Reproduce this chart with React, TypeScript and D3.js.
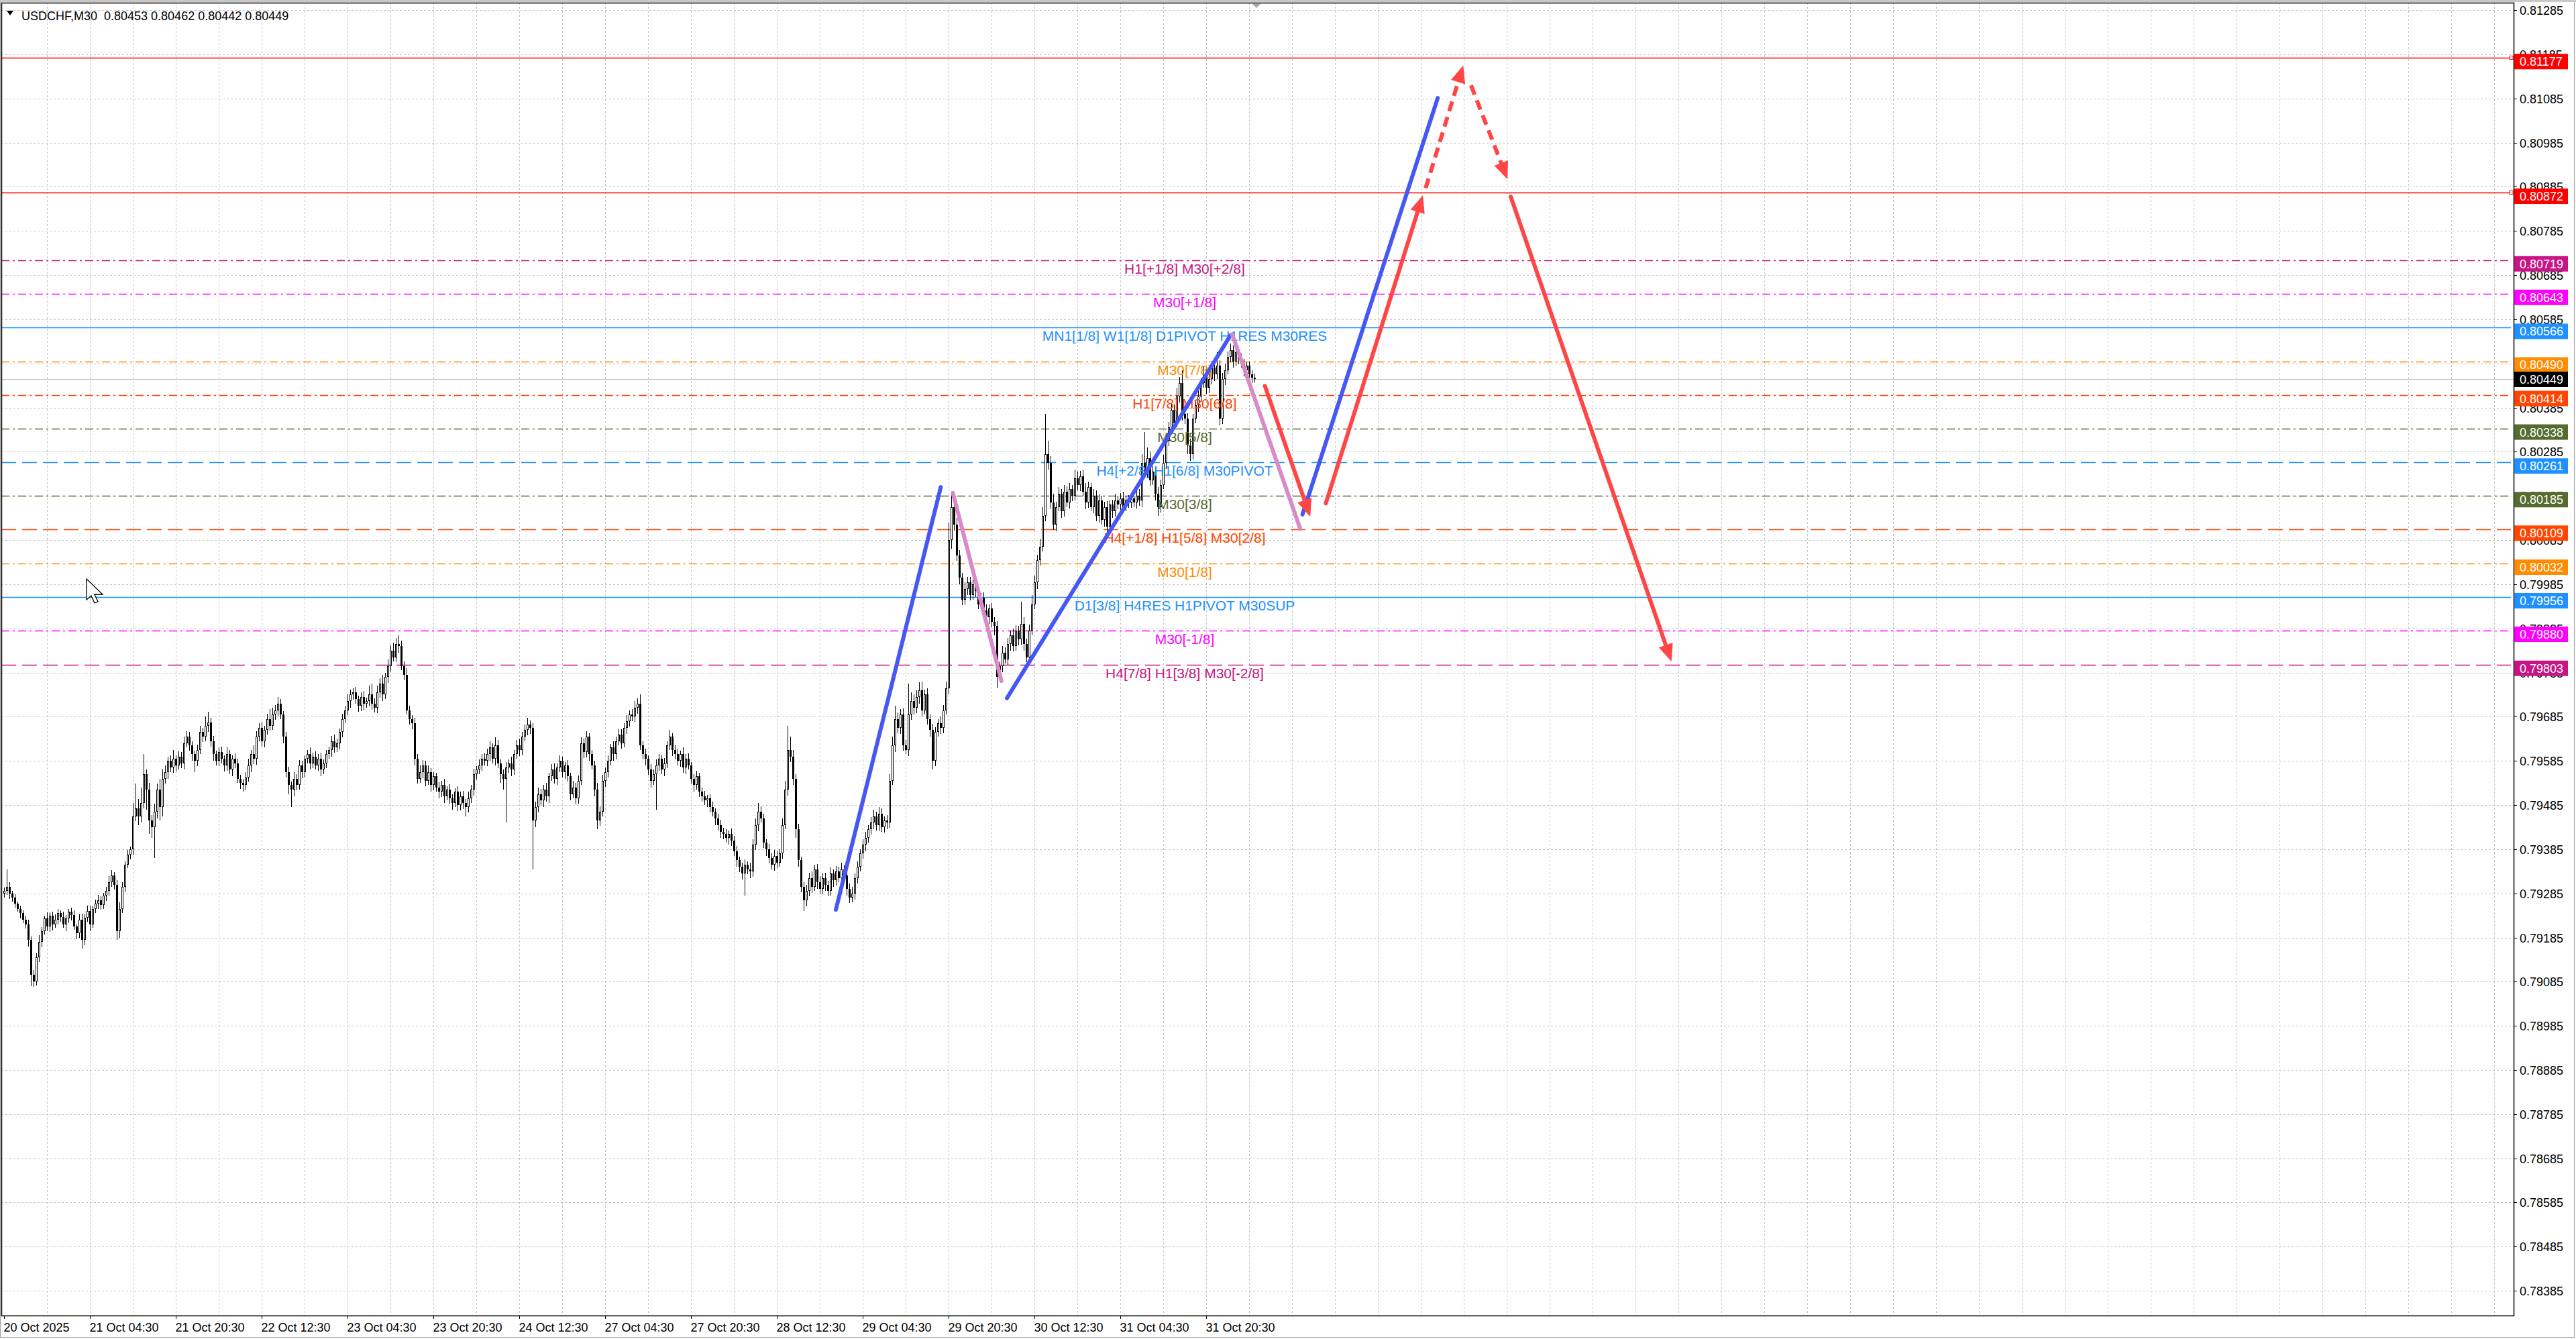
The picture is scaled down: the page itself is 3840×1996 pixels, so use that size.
import React, { useEffect, useRef } from "react";
import * as d3 from "d3";

const W = 3840;
const H = 1996;
const FONT = "'Liberation Sans', Arial, sans-serif";

// candle prices in points (0.00001) above 0.79000, open = previous close
const firstOpen = 285;
const closes = [
  290, 300, 285, 275, 262, 250, 240, 225, 215, 180,
  100, 85, 140, 175, 200, 228, 210, 235, 215, 225,
  240, 232, 215, 228, 244, 236, 210, 195, 225, 180,
  230, 245, 215, 250, 262, 270, 258, 280, 290, 310,
  325, 305, 200, 250, 300, 350, 372, 385, 460, 478,
  460, 490, 555, 520, 450, 435, 470, 520, 480, 545,
  560, 585, 570, 590, 575, 595, 580, 625, 640, 620,
  600, 585, 610, 650, 640, 665, 672, 630, 600, 585,
  605, 590, 575, 600, 565, 590, 580, 545, 535, 530,
  548, 575, 600, 590, 640, 660, 630, 655, 680, 665,
  690, 700, 715, 690, 640, 560, 530, 520, 545, 530,
  575, 560, 590, 600, 580, 595, 575, 590, 565, 580,
  600, 610, 630, 615, 625, 650, 680, 700, 720, 735,
  740, 725, 710, 730, 715, 720, 735, 715, 705, 740,
  760, 735, 775, 800, 835, 820, 850, 845, 800, 780,
  700, 680, 670, 590, 545, 560, 575, 540, 560, 530,
  550, 525, 515, 530, 505, 520, 500, 490, 515, 485,
  505, 490, 480, 500, 520, 555, 565, 575, 590, 585,
  600, 615, 590, 620, 580, 555, 545, 570, 580, 565,
  600, 620, 610, 640, 655, 668, 660, 450, 480, 510,
  495, 520, 505, 550, 565, 545, 570, 585, 560, 575,
  550, 510, 525, 500, 540, 625, 605, 640, 600, 575,
  520, 450, 470, 540, 560, 585, 615, 600, 630, 645,
  625, 660, 675, 690, 685, 705, 715, 620, 600, 590,
  565, 540, 555, 575, 590, 565, 580, 620, 640, 610,
  600, 585, 600, 570, 590, 575, 545, 530, 550, 515,
  505, 495, 500, 480, 470, 455, 440, 425, 420, 410,
  420, 405, 380, 360, 345, 330, 350, 340, 335, 395,
  440, 470, 455, 400, 385, 365, 350, 370, 355, 375,
  440, 520, 610, 595, 545, 430, 360, 300, 270, 290,
  320, 300, 340, 310, 295, 320, 305, 290, 330, 315,
  335, 320, 340, 325, 295, 275, 285, 320, 345, 375,
  395, 410, 430, 445, 460, 440, 465, 435, 450, 445,
  540, 620, 680, 660, 690, 620, 610, 690, 720, 705,
  730, 745, 700, 735, 680, 655, 585, 650, 670, 660,
  700, 750, 1085, 1160, 1120, 1050, 1000, 950, 975, 990,
  960, 985, 970, 940, 955, 925, 910, 930, 900, 890,
  775, 800, 830, 815, 850, 870, 845, 880, 860, 895,
  850, 820, 880, 940, 990, 1040, 1070, 1140, 1280, 1260,
  1170, 1120, 1160, 1190, 1150, 1195, 1170, 1200, 1185, 1225,
  1210, 1230, 1195, 1170, 1205, 1160, 1185, 1140, 1175, 1130,
  1160, 1115, 1165, 1150, 1175, 1165, 1180, 1160, 1175, 1170,
  1180, 1170, 1185, 1175, 1260, 1240, 1270, 1220, 1240, 1190,
  1160, 1210, 1260, 1310, 1340, 1380, 1350, 1410, 1440, 1370,
  1360, 1300, 1280, 1360, 1390, 1410, 1440, 1460, 1430, 1450,
  1475, 1460, 1480, 1360, 1450, 1470, 1500, 1515, 1490, 1510,
  1495, 1485, 1470, 1480, 1460, 1453, 1449,
];
const upperWicks = [
  8, 40, 10, 6, 8, 5, 7, 6, 9, 10,
  8, 12, 10, 15, 8, 6, 14, 7, 9, 12,
  10, 6, 12, 8, 6, 9, 10, 5, 12, 14,
  8, 12, 10, 7, 9, 12, 8, 6, 10, 14,
  12, 8, 10, 15, 10, 8, 12, 6, 30, 55,
  20, 35, 45, 10, 15, 12, 18, 14, 25, 20,
  15, 10, 12, 20, 8, 12, 10, 15, 12, 10,
  10, 8, 12, 15, 10, 20, 25, 10, 12, 8,
  10, 12, 8, 15, 10, 8, 12, 10, 8, 10,
  12, 15, 10, 20, 12, 10, 14, 10, 12, 22,
  15, 12, 15, 10, 8, 10, 12, 8, 15, 10,
  12, 10, 8, 10, 15, 8, 12, 10, 14, 8,
  10, 8, 12, 15, 10, 8, 12, 10, 15, 12,
  10, 12, 8, 10, 14, 8, 20, 25, 12, 15,
  12, 20, 10, 15, 12, 18, 14, 20, 12, 10,
  15, 10, 8, 12, 10, 15, 12, 10, 14, 8,
  10, 8, 12, 10, 15, 8, 12, 10, 8, 12,
  10, 12, 8, 15, 10, 12, 8, 14, 10, 12,
  12, 15, 10, 18, 12, 8, 10, 12, 8, 14,
  10, 12, 15, 10, 12, 14, 8, 10, 12, 15,
  12, 10, 15, 8, 12, 14, 10, 12, 10, 8,
  12, 8, 15, 10, 12, 14, 10, 12, 8, 10,
  10, 15, 12, 14, 10, 12, 8, 15, 10, 12,
  12, 10, 14, 10, 12, 15, 12, 20, 10, 12,
  8, 12, 10, 14, 10, 8, 12, 10, 15, 8,
  10, 12, 8, 15, 10, 12, 8, 10, 12, 8,
  10, 12, 8, 10, 12, 8, 10, 12, 8, 10,
  8, 12, 10, 12, 8, 10, 12, 8, 14, 12,
  15, 20, 12, 10, 8, 12, 10, 14, 12, 10,
  15, 20, 55, 30, 15, 10, 12, 8, 10, 15,
  12, 15, 10, 12, 14, 10, 12, 8, 14, 10,
  12, 10, 15, 8, 10, 12, 14, 10, 12, 10,
  12, 15, 10, 12, 14, 10, 15, 12, 10, 12,
  15, 20, 30, 15, 12, 14, 12, 70, 20, 15,
  15, 18, 20, 12, 15, 10, 14, 12, 10, 15,
  12, 15, 40, 30, 20, 15, 12, 10, 15, 12,
  12, 10, 15, 12, 10, 12, 14, 10, 12, 10,
  12, 10, 15, 12, 14, 10, 15, 12, 10, 50,
  15, 12, 14, 20, 15, 12, 18, 20, 90, 30,
  15, 20, 12, 15, 10, 14, 12, 15, 10, 20,
  15, 12, 14, 20, 12, 10, 15, 12, 14, 10,
  12, 14, 10, 12, 15, 10, 12, 14, 10, 12,
  10, 12, 14, 15, 20, 70, 25, 15, 12, 10,
  15, 12, 18, 14, 12, 15, 12, 20, 15, 30,
  15, 12, 14, 10, 12, 15, 12, 18, 14, 12,
  15, 20, 30, 12, 14, 15, 12, 15, 10, 12,
  10, 12, 10, 8, 10, 9, 9,
];
const lowerWicks = [
  10, 8, 12, 8, 10, 6, 12, 8, 10, 15,
  25, 12, 8, 10, 12, 8, 10, 12, 14, 8,
  10, 12, 8, 15, 10, 12, 8, 14, 10, 20,
  12, 10, 15, 8, 10, 12, 10, 8, 12, 10,
  10, 12, 20, 15, 10, 12, 8, 10, 14, 12,
  20, 15, 12, 45, 30, 25, 70, 15, 30, 20,
  12, 15, 10, 12, 14, 10, 12, 15, 10, 12,
  15, 25, 12, 10, 12, 10, 15, 12, 14, 10,
  12, 10, 14, 12, 10, 15, 12, 10, 14, 15,
  12, 10, 15, 12, 14, 10, 12, 15, 10, 12,
  10, 12, 14, 10, 15, 12, 20, 40, 15, 12,
  10, 14, 12, 10, 15, 12, 10, 12, 14, 10,
  12, 10, 15, 12, 10, 14, 12, 10, 12, 15,
  12, 10, 14, 12, 15, 10, 12, 14, 10, 12,
  12, 15, 10, 14, 12, 10, 12, 15, 10, 12,
  10, 12, 14, 15, 12, 10, 14, 12, 10, 15,
  12, 10, 14, 12, 15, 10, 12, 15, 10, 14,
  12, 14, 20, 12, 10, 14, 12, 10, 12, 10,
  12, 14, 10, 15, 12, 20, 25, 100, 12, 14,
  12, 10, 14, 12, 10, 12, 14, 110, 15, 12,
  10, 14, 12, 15, 10, 12, 14, 10, 12, 15,
  12, 15, 10, 14, 12, 10, 14, 12, 15, 10,
  15, 20, 12, 10, 14, 12, 10, 15, 12, 10,
  12, 10, 14, 12, 10, 12, 14, 10, 12, 15,
  12, 15, 10, 80, 12, 10, 15, 12, 10, 14,
  12, 10, 14, 12, 15, 10, 12, 14, 10, 12,
  12, 10, 14, 12, 10, 15, 12, 14, 12, 10,
  14, 12, 10, 15, 12, 14, 50, 12, 15, 12,
  12, 14, 10, 12, 15, 12, 10, 14, 12, 10,
  12, 10, 14, 12, 15, 20, 14, 12, 25, 15,
  12, 14, 10, 15, 12, 10, 14, 12, 10, 15,
  12, 10, 14, 12, 15, 12, 10, 14, 12, 10,
  12, 14, 10, 12, 15, 12, 14, 10, 12, 15,
  12, 10, 15, 12, 14, 12, 10, 14, 12, 15,
  12, 15, 14, 10, 12, 15, 20, 12, 10, 14,
  12, 10, 15, 20, 14, 12, 15, 12, 10, 14,
  12, 10, 14, 12, 15, 10, 12, 14, 12, 20,
  25, 12, 14, 10, 12, 15, 12, 10, 14, 12,
  15, 12, 14, 10, 12, 15, 12, 10, 12, 15,
  14, 12, 15, 10, 14, 12, 10, 14, 12, 10,
  12, 14, 10, 15, 12, 10, 14, 12, 15, 10,
  14, 12, 10, 14, 12, 10, 12, 14, 10, 12,
  12, 10, 14, 12, 15, 12, 14, 12, 10, 15,
  20, 12, 10, 14, 12, 15, 12, 10, 14, 15,
  12, 20, 15, 12, 10, 14, 12, 10, 14, 12,
  12, 15, 10, 15, 12, 14, 10, 12, 15, 12,
  12, 10, 14, 12, 10, 12, 7,
];

const priceTicks = [
  0.81285, 0.81185, 0.81085, 0.80985, 0.80885, 0.80785, 0.80685, 0.80585,
  0.80485, 0.80385, 0.80285, 0.80185, 0.80085, 0.79985, 0.79885, 0.79785,
  0.79685, 0.79585, 0.79485, 0.79385, 0.79285, 0.79185, 0.79085, 0.78985,
  0.78885, 0.78785, 0.78685, 0.78585, 0.78485, 0.78385,
];
const timeLabels = [
  "20 Oct 2025", "21 Oct 04:30", "21 Oct 20:30", "22 Oct 12:30", "23 Oct 04:30",
  "23 Oct 20:30", "24 Oct 12:30", "27 Oct 04:30", "27 Oct 20:30", "28 Oct 12:30",
  "29 Oct 04:30", "29 Oct 20:30", "30 Oct 12:30", "31 Oct 04:30", "31 Oct 20:30",
];

// Murrey / pivot levels
const levelPrices = [
  0.81177, 0.80872, 0.80719, 0.80643, 0.80566, 0.8049, 0.80414, 0.80338,
  0.80261, 0.80185, 0.80109, 0.80032, 0.79956, 0.7988, 0.79803,
];
const levelTexts = [
  "", "", "H1[+1/8] M30[+2/8]", "M30[+1/8]", "MN1[1/8] W1[1/8] D1PIVOT H1RES M30RES",
  "M30[7/8]", "H1[7/8] M30[6/8]", "M30[5/8]", "H4[+2/8] H1[6/8] M30PIVOT", "M30[3/8]",
  "H4[+1/8] H1[5/8] M30[2/8]", "M30[1/8]", "D1[3/8] H4RES H1PIVOT M30SUP", "M30[-1/8]",
  "H4[7/8] H1[3/8] M30[-2/8]",
];
const levelColors = [
  "#ff0000", "#ff0000", "#c71585", "#ff00ff", "#1e90ff", "#ff8c00", "#ff4500", "#556b2f",
  "#1e90ff", "#556b2f", "#ff4500", "#ff8c00", "#1e90ff", "#ff00ff", "#c71585",
];
const levelDash = [
  "", "", "12,5,3,5", "12,5,3,5", "", "12,5,3,5", "12,5,3,5", "12,5,3,5",
  "22,9", "12,5,3,5", "22,9", "12,5,3,5", "", "12,5,3,5", "22,9",
];
const lastPrice = 0.80449;

// drawn waves: [bar index, price]
const blueLegs = [
  [[310, 0.79248], [349.1, 0.80205]],
  [[373.75, 0.79727], [457.1, 0.80549]],
  [[483.9, 0.80143], [534.3, 0.81086]],
];
const pinkLegs = [
  [[353.6, 0.80192], [371.7, 0.79766]],
  [[457.7, 0.80551], [483.1, 0.8011]],
];
const redArrows = [
  [[469.9, 0.80434], [486.8, 0.80138]],
  [[492.6, 0.80168], [528.75, 0.80866]],
  [[529.8, 0.80882], [543.8, 0.8116]],
  [[546.7, 0.81115], [560.3, 0.80902]],
  [[561.5, 0.80863], [621.4, 0.7981]],
];
const redDashed = [false, false, true, true, false];

const App: React.FC = () => {
  const svgRef = useRef<SVGSVGElement | null>(null);

  useEffect(() => {
    document.body.style.margin = "0";
    if (!svgRef.current) return;
    const svg = d3.select(svgRef.current);
    svg.selectAll("*").remove();

    const left = 2;
    const right = 3747;
    const top = 4;
    const bottom = 1961;

    const x = d3.scaleLinear().domain([0, 935]).range([6, 3746]);
    const y = d3.scaleLinear().domain([0.78329, 0.81302]).range([bottom, top]);
    const P = (v: number) => 0.79 + v / 100000;

    svg.append("rect").attr("width", W).attr("height", H).attr("fill", "#fff");

    // grid
    const grid = svg.append("g").attr("stroke", "#c4c4c4").attr("stroke-dasharray", "3,3").attr("stroke-width", 1);
    priceTicks.forEach((p) => {
      const yy = Math.round(y(p)) + 0.5;
      grid.append("line").attr("x1", left).attr("x2", right).attr("y1", yy).attr("y2", yy);
    });
    for (let k = 1; x(k * 16) < right - 2; k++) {
      const xx = Math.round(x(k * 16)) + 0.5;
      grid.append("line").attr("x1", xx).attr("x2", xx).attr("y1", top).attr("y2", bottom);
    }

    // level lines
    const lv = svg.append("g");
    levelPrices.forEach((p, i) => {
      const yy = Math.round(y(p)) + 0.5;
      lv.append("line")
        .attr("x1", left)
        .attr("x2", right - 4)
        .attr("y1", yy)
        .attr("y2", yy)
        .attr("stroke", levelColors[i])
        .attr("stroke-width", 1.3)
        .attr("stroke-dasharray", levelDash[i] || null);
      if (!levelTexts[i]) {
        lv.append("rect")
          .attr("x", right - 6)
          .attr("y", yy - 3)
          .attr("width", 5)
          .attr("height", 5)
          .attr("fill", "#fff")
          .attr("stroke", levelColors[i])
          .attr("stroke-width", 1);
      }
    });
    const ly = Math.round(y(lastPrice)) + 0.5;
    svg.append("line").attr("x1", left).attr("x2", right).attr("y1", ly).attr("y2", ly).attr("stroke", "#c0c0c0").attr("stroke-width", 1.2);

    // candles
    const cg = svg.append("g").attr("shape-rendering", "crispEdges");
    closes.forEach((c, i) => {
      const o = i === 0 ? firstOpen : closes[i - 1];
      const hi = P(Math.max(o, c) + upperWicks[i]);
      const lo = P(Math.min(o, c) - lowerWicks[i]);
      const xc = Math.round(x(i));
      const yh = Math.round(y(hi));
      const yl = Math.round(y(lo));
      cg.append("rect").attr("x", xc).attr("y", yh).attr("width", 1).attr("height", Math.max(1, yl - yh)).attr("fill", "#000");
      const yo = Math.round(y(P(o)));
      const yc = Math.round(y(P(c)));
      const bt = Math.min(yo, yc);
      const bh = Math.max(1, Math.abs(yo - yc));
      cg.append("rect").attr("x", xc - 1).attr("y", bt).attr("width", 3).attr("height", bh).attr("fill", "#000");
      if (c > o && bh > 2) {
        cg.append("rect").attr("x", xc).attr("y", bt + 1).attr("width", 1).attr("height", bh - 2).attr("fill", "#fff");
      }
    });

    // level labels
    const tx = x(440);
    levelPrices.forEach((p, i) => {
      if (!levelTexts[i]) return;
      svg.append("text")
        .attr("x", tx)
        .attr("y", y(p) + 20)
        .attr("text-anchor", "middle")
        .attr("font-family", FONT)
        .attr("font-size", 21)
        .attr("fill", levelColors[i])
        .text(levelTexts[i]);
    });

    // waves
    const pt = (d: number[]) => [x(d[0]), y(d[1])];
    const wg = svg.append("g").attr("fill", "none").attr("stroke-linecap", "round");
    blueLegs.forEach((leg) => {
      const [a, b] = leg.map(pt);
      wg.append("line").attr("x1", a[0]).attr("y1", a[1]).attr("x2", b[0]).attr("y2", b[1]).attr("stroke", "#4658f4").attr("stroke-width", 6);
    });
    pinkLegs.forEach((leg) => {
      const [a, b] = leg.map(pt);
      wg.append("line").attr("x1", a[0]).attr("y1", a[1]).attr("x2", b[0]).attr("y2", b[1]).attr("stroke", "#d98ac8").attr("stroke-width", 6);
    });
    redArrows.forEach((leg, i) => {
      const [a, b] = leg.map(pt);
      const ang = Math.atan2(b[1] - a[1], b[0] - a[0]);
      const len = 26;
      const hw = 11;
      const bx = b[0] - len * Math.cos(ang);
      const by = b[1] - len * Math.sin(ang);
      wg.append("line")
        .attr("x1", a[0])
        .attr("y1", a[1])
        .attr("x2", bx + 4 * Math.cos(ang))
        .attr("y2", by + 4 * Math.sin(ang))
        .attr("stroke", "#ff4646")
        .attr("stroke-width", 6)
        .attr("stroke-linecap", redDashed[i] ? "butt" : "round")
        .attr("stroke-dasharray", redDashed[i] ? "15,9" : null);
      const nx = -Math.sin(ang);
      const ny = Math.cos(ang);
      wg.append("polygon")
        .attr("points", `${b[0]},${b[1]} ${bx + hw * nx},${by + hw * ny} ${bx - hw * nx},${by - hw * ny}`)
        .attr("fill", "#ff4646")
        .attr("stroke", "none");
    });

    // mouse pointer left on the screenshot
    svg.append("polygon")
      .attr("transform", "translate(129,863)")
      .attr("points", "0,0 0,31 7,25 12,36 17,34 12,23 24,23")
      .attr("fill", "#fff")
      .attr("stroke", "#000")
      .attr("stroke-width", 1.3);

    // frame
    svg.append("rect").attr("x", 0.5).attr("y", 0.5).attr("width", W - 3).attr("height", H - 3).attr("fill", "none").attr("stroke", "#a0a0a0");
    svg.append("rect").attr("x", 0).attr("y", 0).attr("width", W).attr("height", 3).attr("fill", "#c8c8c8");
    svg.append("rect")
      .attr("x", left + 0.5)
      .attr("y", top + 0.5)
      .attr("width", right - left)
      .attr("height", bottom - top)
      .attr("fill", "none")
      .attr("stroke", "#000")
      .attr("stroke-width", 1.5);

    // shift marker
    svg.append("polygon").attr("points", "1866,5 1880,5 1873,12").attr("fill", "#a8a8a8");

    // price axis
    const ax = svg.append("g").attr("font-family", FONT).attr("font-size", 18);
    priceTicks.forEach((p) => {
      const yy = Math.round(y(p)) + 0.5;
      ax.append("line").attr("x1", right).attr("x2", right + 5).attr("y1", yy).attr("y2", yy).attr("stroke", "#000");
      ax.append("text").attr("x", right + 9).attr("y", yy).attr("dy", "0.36em").attr("fill", "#000").text(p.toFixed(5));
    });
    const boxes = levelPrices.map((p, i) => ({ p, color: levelColors[i], dy: -6 }));
    boxes.push({ p: lastPrice, color: "#000", dy: -11.5 });
    boxes.forEach((b) => {
      const yy = y(b.p) + b.dy;
      ax.append("rect").attr("x", right + 1).attr("y", yy).attr("width", 80).attr("height", 23).attr("fill", b.color);
      ax.append("text").attr("x", right + 9).attr("y", yy + 11.5).attr("dy", "0.36em").attr("fill", "#fff").text(b.p.toFixed(5));
    });

    // time axis
    timeLabels.forEach((t, k) => {
      const xx = Math.round(x(k * 32)) + 0.5;
      ax.append("line").attr("x1", xx).attr("x2", xx).attr("y1", bottom).attr("y2", bottom + 5).attr("stroke", "#000");
      ax.append("text").attr("x", xx - 1).attr("y", bottom + 24).attr("fill", "#000").text(t);
    });

    // header
    svg.append("polygon").attr("points", "10,16 20,16 15,23").attr("fill", "#000");
    svg.append("text")
      .attr("x", 32)
      .attr("y", 30)
      .attr("font-family", FONT)
      .attr("font-size", 18)
      .attr("fill", "#000")
      .style("white-space", "pre")
      .text("USDCHF,M30  0.80453 0.80462 0.80442 0.80449");
  }, []);

  return <svg ref={svgRef} width={W} height={H} style={{ display: "block" }} />;
};

export default App;
